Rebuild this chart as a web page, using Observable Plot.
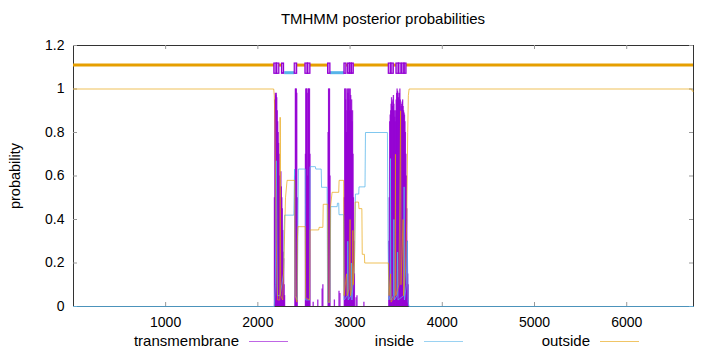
<!DOCTYPE html>
<html>
<head>
<meta charset="utf-8">
<script src="https://cdn.jsdelivr.net/npm/d3@7"></script>
<script src="https://cdn.jsdelivr.net/npm/@observablehq/plot@0.6"></script>
<style>
  html, body { margin: 0; padding: 0; background: #fff; }
  #wrap { position: relative; width: 720px; height: 352px; font-family: "Liberation Sans", Arial, sans-serif; color: #000; }
  #title { position: absolute; left: 383px; top: 11px; transform: translateX(-50%); font-size: 15px; line-height: 16px; white-space: nowrap; }
  #ylabel { position: absolute; left: 15px; top: 176px; transform: translate(-50%, -50%) rotate(-90deg); font-size: 14.5px; line-height: 16px; white-space: nowrap; }
  .leg { position: absolute; top: 333px; font-size: 15px; line-height: 16px; white-space: nowrap; text-align: right; }
  .legline { position: absolute; top: 341px; height: 1px; }
</style>
</head>
<body>
<div id="wrap">
  <div id="chart"></div>
  <div id="title">TMHMM posterior probabilities</div>
  <div id="ylabel">probability</div>
  <div id="legend"></div>
</div>
<script>
// ---- data ----
const xTicks = [1000, 2000, 3000, 4000, 5000, 6000];
const xTickLabels = ["1000", "2000", "3000", "4000", "5000", "6000"];
const yTicks = [0, 0.2, 0.4, 0.6, 0.8, 1, 1.2];
const yTickLabels = ["0", "0.2", "0.4", "0.6", "0.8", "1", "1.2"];
const seqLength = 6724;

const seriesNames = ["transmembrane", "inside", "outside"];
const seriesColors = ["#9400d3", "#56b4e9", "#e69f00"];

// posterior probability of "outside" [position, probability]
const outside = [
  [1,1],[2172,1],[2178,0.97],[2185,0.85],[2192,0.6],[2200,0.3],[2208,0.1],[2215,0.03],[2238,0.03],[2242,0.87],[2248,0.05],
  [2270,0.03],[2282,0.2],[2300,0.5],[2317,0.58],[2400,0.58],[2404,0.05],[2424,0.02],[2428,0.3],[2435,0.367],[2514,0.367],
  [2518,0.04],[2562,0.03],[2566,0.352],[2660,0.352],[2664,0.364],[2705,0.364],[2709,0.47],[2758,0.47],[2762,0.02],[2780,0.02],
  [2786,0.45],[2805,0.525],[2877,0.525],[2881,0.58],[2930,0.58],[2935,0.05],[2962,0.15],[2968,0.05],[2990,0.08],[3000,0.4],
  [3004,0.05],[3025,0.1],[3030,0.35],[3035,0.1],[3048,0.2],[3055,0.48],[3092,0.48],[3096,0.45],[3128,0.45],[3132,0.24],
  [3155,0.24],[3159,0.2],[3416,0.2],[3422,0.05],[3440,0.15],[3445,0.02],[3488,0.05],[3492,0.7],[3496,0.05],[3530,0.1],
  [3548,0.9],[3552,0.1],[3575,0.4],[3580,0.05],[3600,0.15],[3615,0.4],[3625,0.8],[3632,0.97],[3640,1],[6705,1],[6710,0.99],[6724,0.99]
];

// posterior probability of "inside"
const inside = [
  [1,0],[2178,0],[2190,0.1],[2200,0.67],[2206,0.4],[2212,0.05],[2240,0.05],[2260,0.1],[2278,0.15],[2285,0.35],[2290,0.42],
  [2390,0.42],[2398,0.632],[2404,0.05],[2428,0.03],[2440,0.632],[2514,0.632],[2518,0.03],[2562,0.03],[2566,0.643],[2624,0.643],
  [2628,0.632],[2687,0.632],[2691,0.548],[2751,0.548],[2756,0.02],[2782,0.02],[2790,0.459],[2860,0.459],[2863,0.475],[2877,0.475],
  [2880,0.422],[2930,0.422],[2935,0.03],[2970,0.05],[2975,0.3],[2980,0.03],[3010,0.05],[3015,0.2],[3020,0.03],[3048,0.2],
  [3058,0.517],[3094,0.517],[3097,0.55],[3162,0.55],[3167,0.8],[3405,0.8],[3412,0.3],[3420,0.03],[3435,0.05],[3438,0.68],
  [3442,0.03],[3470,0.05],[3475,0.4],[3480,0.03],[3510,0.05],[3515,0.25],[3520,0.03],[3582,0.05],[3586,0.55],[3590,0.03],
  [3610,0.1],[3620,0.3],[3630,0.02],[3640,0],[6724,0]
];

// posterior probability of "transmembrane" (impulses)
const transmembrane = [
  [2180,0.5],[2185,0.95],[2190,0.98],[2195,0.97],[2200,0.98],[2205,0.96],[2210,0.9],[2215,0.85],[2220,0.8],[2225,0.75],
  [2230,0.7],[2235,0.6],[2240,0.55],[2245,0.5],[2250,0.62],[2255,0.55],[2260,0.5],[2265,0.45],[2270,0.35],[2275,0.25],
  [2280,0.22],[2285,0.1],[2290,0.05],
  [2402,0.6],[2407,1],[2412,1],[2417,1],[2422,0.98],[2427,0.5],
  [2516,0.7],[2520,1],[2525,1],[2530,1],[2535,0.98],[2540,0.6],[2545,1],[2550,1],[2555,1],[2560,1],[2565,0.7],
  [2600,0.02],[2650,0.03],[2697,0.08],[2705,0.1],
  [2762,0.8],[2767,1],[2772,1],[2777,1],[2782,0.6],
  [2830,0.03],[2880,0.07],[2890,0.06],
  [2937,0.5],[2942,1],[2947,1],[2952,0.95],[2957,1],[2962,0.8],[2967,0.9],[2972,1],[2977,0.98],[2982,1],[2987,0.95],
  [2992,1],[2997,0.9],[3002,1],[3007,0.97],[3012,0.9],[3017,0.95],[3022,0.85],[3027,0.9],[3032,0.7],[3037,0.5],[3042,0.3],[3047,0.15],
  [3065,0.04],[3075,0.05],[3150,0.02],
  [3420,0.3],[3425,0.5],[3430,0.85],[3435,0.88],[3440,0.9],[3445,0.93],[3450,0.96],[3455,0.94],[3460,0.92],[3465,0.95],
  [3470,0.97],[3475,0.93],[3480,0.9],[3485,0.87],[3490,0.85],[3495,0.9],[3500,0.95],[3505,0.98],[3510,1],[3515,0.99],
  [3520,0.98],[3525,0.96],[3530,0.95],[3535,0.98],[3540,1],[3545,0.95],[3550,0.9],[3555,0.92],[3560,0.93],[3565,0.94],
  [3570,0.95],[3575,0.92],[3580,0.9],[3585,0.89],[3590,0.88],[3595,0.85],[3600,0.8],[3605,0.7],[3610,0.6],[3615,0.45],
  [3620,0.3],[3625,0.15],[3630,0.1]
];

// predicted topology (top band)
const topoOutside = [[1,2179],[2233,2262],[2426,2516],[2570,2762],[2961,2979],[3040,3420],[3474,3503],[3612,6724]];
const topoInside = [[2291,2400],[2787,2939]];
const topoTM = [[2179,2206],[2206,2233],[2262,2284],[2400,2426],[2516,2543],[2543,2570],[2762,2787],[2939,2961],
  [2979,3000],[3000,3020],[3020,3040],[3420,3447],[3447,3474],[3503,3530],[3530,3558],[3565,3590],[3590,3612]];
const topoOutsideLevel = 1.11;
const topoInsideLevel = 1.075;
const topoTMRange = [1.07, 1.117];

// ---- chart ----
const W = 720, H = 352, mT = 45, mB = 46, mL = 73, mR = 27;
const frameW = W - mL - mR, frameH = H - mT - mB, tick = 4;
const pt = a => a.map(d => ({pos: d[0], p: d[1]}));
const seg = a => a.map(d => ({a: d[0], b: d[1]}));

const chart = Plot.plot({
  width: W, height: H,
  marginTop: mT, marginBottom: mB, marginLeft: mL, marginRight: mR,
  x: {domain: [1, seqLength], axis: null},
  y: {domain: [0, 1.2], axis: null},
  style: {fontFamily: "'Liberation Sans', Arial, sans-serif", fontSize: "14px", background: "#fff", overflow: "visible", color: "#000"},
  marks: [
    Plot.frame({stroke: "#333", strokeWidth: 1}),
    Plot.ruleX(xTicks, {x: d => d, insetTop: frameH - tick, stroke: "#999"}),
    Plot.ruleX(xTicks, {x: d => d, insetBottom: frameH - tick, stroke: "#999"}),
    Plot.ruleY(yTicks, {y: d => d, insetRight: frameW - tick, stroke: "#999"}),
    Plot.ruleY(yTicks, {y: d => d, insetLeft: frameW - tick, stroke: "#999"}),
    Plot.text(xTicks, {x: d => d, frameAnchor: "bottom", dy: 20, text: (d, i) => xTickLabels[i], fontSize: 14, fill: "#000"}),
    Plot.text(yTicks, {y: d => d, frameAnchor: "left", dx: -9, textAnchor: "end", text: (d, i) => yTickLabels[i], fontSize: 14, fill: "#000"}),
    Plot.ruleX(pt(transmembrane), {x: "pos", y1: 0, y2: "p", stroke: seriesColors[0], strokeWidth: 1.3, strokeOpacity: 0.85}),
    Plot.line(pt(inside), {x: "pos", y: "p", stroke: seriesColors[1], strokeWidth: 1, strokeOpacity: 0.75}),
    Plot.line(pt(outside), {x: "pos", y: "p", stroke: seriesColors[2], strokeWidth: 1, strokeOpacity: 0.65}),
    Plot.ruleY(seg(topoOutside), {x1: "a", x2: "b", y: topoOutsideLevel, stroke: seriesColors[2], strokeWidth: 3}),
    Plot.ruleY(seg(topoInside), {x1: "a", x2: "b", y: topoInsideLevel, stroke: seriesColors[1], strokeWidth: 3}),
    Plot.rect(seg(topoTM), {x1: "a", x2: "b", y1: topoTMRange[0], y2: topoTMRange[1], fill: seriesColors[0], fillOpacity: 0.45, stroke: seriesColors[0], strokeWidth: 1.2})
  ]
});
document.getElementById("chart").appendChild(chart);

// legend
const legendTextRight = [239, 414, 590];
const legend = document.getElementById("legend");
seriesNames.forEach((name, i) => {
  const t = document.createElement("div");
  t.className = "leg";
  t.textContent = name;
  t.style.right = (W - legendTextRight[i]) + "px";
  legend.appendChild(t);
  const l = document.createElement("div");
  l.className = "legline";
  l.style.left = (legendTextRight[i] + 10) + "px";
  l.style.width = "39px";
  l.style.background = seriesColors[i];
  l.style.opacity = 0.6;
  legend.appendChild(l);
});
</script>
</body>
</html>
